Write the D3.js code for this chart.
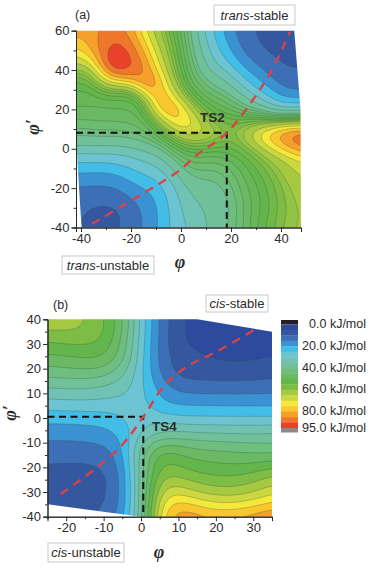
<!DOCTYPE html>
<html>
<head>
<meta charset="utf-8">
<script src="https://cdn.jsdelivr.net/npm/d3@7"></script>
<style>
  html, body { margin: 0; padding: 0; background: #fff; }
  svg { display: block; }
  text { font-family: "Liberation Sans", Arial, sans-serif; fill: #2b2b2b; }
  .tick text { font-size: 13px; fill: #2b2b2b; }
  .domain, .tick line { stroke: #2b2b2b; stroke-width: 1; }
</style>
</head>
<body>
<div id="chart"></div>
<script>
// Energy levels (kJ/mol) and the colour of the band that starts at each level
const levels = [0, 5, 10, 15, 20, 25, 30, 35, 40, 45, 50, 55, 60, 65, 70, 75, 80, 85, 90, 95];
const bandColors = ["#2e4a9c", "#34579f", "#3c6fb6", "#3b92d2", "#42bde8", "#6cc3d2", "#70c3b4",
    "#70c19a", "#6ebe80", "#69ba62", "#63b64c", "#7dbc45", "#a6c942", "#cdd73f", "#f4e93b",
    "#fbc72e", "#f69f2b", "#ef772b", "#e8432a", "#8a8a8a"];
const legendTicks = [0, 20, 40, 60, 80, 95];

// Panel (a) has extra contour lines in the green range
const levelsA = [0, 5, 10, 15, 20, 25, 30, 35, 40, 42.5, 45, 47.5, 50, 52.5, 55, 57.5, 60, 65, 70, 75, 80, 85, 90];
const levelsB = levels.slice(0, -1);

// Panel (a): energy, top row is phi' = 60, step 5 deg
const phiA = d3.range(-40, 51, 5);
const psiA = d3.range(60, -41, -5);
const energyA = [
    [82, 83, 87, 87, 83, 72, 62, 55, 47.5, 37.5, 28.5, 22, 16, 11.8, 9.7, 8, 7.5, 8, 8.5],
    [79, 83.5, 89, 90, 87, 76, 65, 57, 48.5, 38.5, 30, 23.5, 17.8, 12.5, 10, 8.7, 8, 8, 8.5],
    [73.5, 81.5, 91, 94, 89, 81, 68, 58.5, 49.5, 40, 31.5, 25.5, 20, 14, 11.5, 9.3, 8.5, 8.5, 8.7],
    [68, 74, 93, 97, 91, 85, 72, 60, 50.5, 41.5, 33.5, 28, 23, 16.5, 13.8, 11, 9.5, 9, 9.2],
    [58, 63, 90, 94, 90, 87, 77, 62, 52, 43, 36, 32, 28, 21, 16.5, 13.5, 10.5, 10, 10],
    [53, 54, 72, 79, 82, 87, 85, 65, 54, 45.5, 40, 36.5, 33, 26, 21, 16.5, 12.5, 12, 11.5],
    [49.8, 50, 57, 55, 53.5, 79, 85, 72, 57, 49, 44, 41, 38, 31, 25.8, 21, 15.5, 14, 14],
    [48.3, 48.3, 49.5, 49.3, 49.2, 51, 83, 80, 65, 53, 48.5, 45.5, 43, 37, 32.5, 27, 21, 20, 20],
    [47.3, 47, 46.7, 47.1, 47.4, 48, 75, 85, 78, 61, 52.5, 49.5, 47.5, 43, 40.5, 35, 30, 32, 32],
    [45.3, 45.7, 45.7, 46, 46.2, 47, 56, 75, 78, 71, 57.5, 54, 52.5, 52, 52, 50, 49, 50, 50],
    [42, 43, 43, 43, 43.5, 45, 50, 60, 72, 71, 66, 59, 56.5, 60, 67, 74, 80, 84, 84],
    [39.5, 39.5, 39.5, 39.5, 40, 42, 44, 52, 60, 63, 63, 57, 55, 60, 70, 78, 84, 90, 92],
    [33, 33, 33, 33, 34, 36, 38, 43, 50, 52.5, 51, 51, 51.5, 54.5, 59, 68, 75, 82, 86],
    [26.8, 27, 27, 27.5, 29, 31, 33, 37, 44, 47.5, 46, 46, 48, 51, 54.5, 59.5, 64, 69, 72],
    [21.8, 21.8, 21.5, 23, 25, 27, 28.5, 33, 39.5, 43.5, 42.5, 43, 45, 49, 52, 56, 61, 65.5, 68],
    [17.7, 17.5, 17, 18.5, 21, 24, 25, 29.5, 35.5, 40.5, 40, 40.5, 43, 47.5, 50.5, 54, 58.5, 63, 65.5],
    [14.2, 14, 14, 15, 17.5, 20, 22, 27, 32.5, 37.5, 38, 39, 41.5, 46.5, 49.5, 52.5, 57, 61, 64],
    [12.5, 12, 11.5, 12.5, 14.8, 17, 20, 25.8, 31, 35.5, 36.5, 38, 40.5, 45.5, 49, 52, 56.5, 60, 62.5],
    [11.5, 10.2, 9.5, 10.5, 13.2, 15.5, 19, 25.3, 30, 34, 35.5, 37, 40, 45, 49, 52, 56, 59.5, 61.5],
    [10.5, 7, 5.5, 9, 12.7, 15, 18.7, 25, 29, 33, 35, 37, 40.5, 45, 49.5, 52.5, 56.5, 59.5, 61],
    [11, 8.5, 8, 10, 12.7, 15, 19, 25, 28.5, 32, 35, 37.5, 41, 45, 50, 53, 57.5, 60, 61.5]
];
const outlineA = [[-42, 60], [45.3, 60], [46.8, 36], [47.8, 20], [48, -40], [-39.8, -40], [-41.5, -5], [-42, 10]];
const pathA = [[-35.7, -38.2], [-15, -22.6], [-0.4, -10.8], [6.3, -3.2], [18.3, 8.1], [29.6, 26.4], [36.3, 40], [43.6, 59.4]];
const guideA = [[-42, 8.1], [18.3, 8.1], [18.3, -40]];

// Panel (b): top row is phi' = 40, step 5 deg
const phiB = d3.range(-25, 36, 5);
const psiB = d3.range(40, -41, -5);
const energyB = [
    [64, 62.5, 60.5, 56, 47, 28, 13, 5.5, 3.5, 2.8, 2.5, 2, 2],
    [59.5, 60.5, 60, 56.5, 47, 27.5, 13, 5.5, 3, 2.5, 2.3, 2, 2],
    [54, 55, 55.5, 54.5, 44.5, 27, 12.5, 5.5, 3.5, 3, 3, 3, 3.5],
    [49, 50, 51, 51, 44, 26.5, 12.5, 7.5, 5.8, 4.7, 4, 4.2, 5],
    [44, 44.8, 45.5, 45.8, 37.7, 27, 12.5, 7.8, 6.5, 6, 5.8, 6.3, 7],
    [38, 38.5, 39, 37, 34.5, 26.5, 16, 10.3, 10, 10, 9.8, 10, 10.5],
    [32.4, 33, 33, 32, 31, 27, 19, 15, 14.8, 14.7, 14.5, 14.7, 15],
    [27, 27.2, 27.5, 27.5, 27, 27.5, 21, 20, 20, 19.8, 19.7, 19.7, 19.5],
    [21.5, 21.7, 22, 22.3, 24.5, 30, 27.5, 25.7, 25.5, 25.5, 25.5, 25.5, 25.5],
    [18, 18, 18.3, 19, 21.5, 29, 33.5, 34.5, 33.5, 33.5, 33, 33, 33.5],
    [14.3, 14.3, 14.5, 15.5, 18.5, 35, 44, 43, 41.5, 41, 40.5, 40, 40],
    [11.2, 11, 11.2, 12, 16.5, 39, 55, 51, 48, 47.5, 46.5, 46, 45.5],
    [9.5, 9.2, 9.2, 9.5, 14.5, 38, 58, 55.5, 52.5, 51.5, 51, 52, 55],
    [8.7, 8.5, 8.5, 8, 14, 37, 63, 61.5, 58, 56.5, 56.5, 58.5, 62.5],
    [8.5, 8.5, 8.7, 8, 14, 36, 68, 69, 64.5, 62, 62, 64, 69],
    [8.7, 9, 9.3, 8.5, 15, 35, 72, 79, 74, 71, 71, 73, 77],
    [9, 9.5, 10, 10, 17, 35, 75, 85, 83, 80, 81, 83, 86]
];
const outlineB = [[-25, 40], [15, 40], [35, 35], [35, -40], [0, -40], [-25, -35]];
const pathB = [[-21.5, -30.8], [-10.9, -19], [-4.7, -10.3], [0.6, 0.5], [6, 12.7], [12.2, 20.8], [20.2, 26.9], [30.6, 36]];
const guideB = [[-25, 0.5], [0.6, 0.5], [0.6, -40]];

const width = 392, height = 568;
const svg = d3.select("#chart").append("svg")
    .attr("width", width)
    .attr("height", height);

const color = d3.scaleThreshold().domain(levels.slice(1)).range(bandColors);

// Colour of a band, the half steps of panel (a) fall between two legend colours
function bandColor(v) {
    const base = Math.floor(v / 5) * 5;
    return d3.interpolateRgb(color(base), color(base + 5))((v - base) / 5);
}

// One contour panel: filled bands, contour lines, axes, dashed paths
function drawPanel(p) {
    var x = d3.scaleLinear().domain(p.xDomain).range(p.xRange),
        y = d3.scaleLinear().domain(p.yDomain).range(p.yRange);

    // Refine the read grid only for drawing, so the lines don't show its 5 deg cells.
    // Edges repeat for two cells, rings then close outside the clip.
    const pad = 2, k = 4, nx = p.phi.length, ny = p.psi.length;
    const w = (nx + 2 * pad - 1) * k + 1, h = (ny + 2 * pad - 1) * k + 1;
    const at = (r, c) => p.energy[Math.min(ny - 1, Math.max(0, r - pad))][Math.min(nx - 1, Math.max(0, c - pad))];
    const values = new Float64Array(w * h);
    for (let j = 0; j < h; j++) {
        for (let i = 0; i < w; i++) {
            const r = Math.floor(j / k), c = Math.floor(i / k), fy = j / k - r, fx = i / k - c;
            values[j * w + i] = d3.interpolate(
                d3.interpolate(at(r, c), at(r, c + 1))(fx),
                d3.interpolate(at(r + 1, c), at(r + 1, c + 1))(fx))(fy);
        }
    }
    d3.blur2({ data: values, width: w, height: h }, p.blur);

    const step = p.phi[1] - p.phi[0];
    const toX = c => x(p.phi[0] + ((c - 0.5) / k - pad) * step);
    const toY = c => y(p.psi[0] - ((c - 0.5) / k - pad) * step);
    const geo = d3.geoPath(d3.geoTransform({
        point: function (a, b) { this.stream.point(toX(a), toY(b)); }
    }));

    const contours = d3.contours().size([w, h]).thresholds(p.levels)(Array.from(values));

    svg.append("clipPath").attr("id", "clip-" + p.name)
        .append("path")
        .attr("d", d3.line().x(d => x(d[0])).y(d => y(d[1]))(p.outline) + "Z");

    const map = svg.append("g").attr("clip-path", "url(#clip-" + p.name + ")")
        .append("g").style("filter", "blur(0.35px)");

    map.selectAll("path")
        .data(contours.filter(d => d.coordinates.length))
        .join("path")
        .attr("d", geo)
        .attr("fill", d => bandColor(d.value))
        .attr("stroke", "#2f4a3a")
        .attr("stroke-opacity", 0.5)
        .attr("stroke-width", 0.55);

    // Axes, major ticks labelled and minor ticks between them
    const xAt = p.yRange[0], yAt = p.xRange[0];
    svg.append("g").attr("transform", `translate(0,${xAt})`)
        .call(d3.axisBottom(x).tickValues(p.xMinor).tickSize(2.5).tickFormat(""));
    svg.append("g").attr("transform", `translate(${yAt},0)`)
        .call(d3.axisLeft(y).tickValues(p.yMinor).tickSize(2.5).tickFormat(""));
    svg.append("g").attr("transform", `translate(0,${xAt})`)
        .call(d3.axisBottom(x).tickValues(p.xTicks).tickSize(4.5).tickPadding(2).tickFormat(d3.format("d")));
    svg.append("g").attr("transform", `translate(${yAt},0)`)
        .call(d3.axisLeft(y).tickValues(p.yTicks).tickSize(4.5).tickPadding(2).tickFormat(d3.format("d")));
    svg.selectAll(".domain").attr("stroke-width", 1.2);
    svg.selectAll(".tick text").text(function () { return this.textContent.replace("\u2212", "-"); });

    // Dashed paths
    const line = d3.line().x(d => x(d[0])).y(d => y(d[1]));
    svg.append("path")
        .attr("d", line(p.guide))
        .attr("fill", "none")
        .attr("stroke", "#111")
        .attr("stroke-width", 2)
        .attr("stroke-dasharray", "7,4.5");
    svg.append("path")
        .attr("d", line.curve(d3.curveCatmullRom)(p.path))
        .attr("fill", "none")
        .attr("stroke", "#d8424a")
        .attr("stroke-width", 2.4)
        .attr("stroke-dasharray", "9,6.5");

    // Text
    svg.append("text").attr("x", p.tag[0]).attr("y", p.tag[1])
        .attr("font-size", "12.5px").text(p.tagText);
    svg.append("text").attr("x", p.ts[0]).attr("y", p.ts[1])
        .attr("font-size", "13.5px").attr("font-weight", "bold").text(p.tsText);
    svg.append("text").attr("x", p.xTitle[0]).attr("y", p.xTitle[1])
        .attr("text-anchor", "middle")
        .style("font-family", "'Liberation Serif', serif")
        .attr("font-size", "18px").attr("font-weight", "bold").attr("font-style", "italic")
        .text("\u03c6");
    svg.append("text")
        .attr("transform", `translate(${p.yTitle[0]},${p.yTitle[1]}) rotate(-90)`)
        .attr("text-anchor", "middle")
        .style("font-family", "'Liberation Serif', serif")
        .attr("font-size", "18px").attr("font-weight", "bold").attr("font-style", "italic")
        .text("\u03c6\u2032");

    p.boxes.forEach(function (b) {
        svg.append("rect")
            .attr("x", b.x).attr("y", b.y).attr("width", b.w).attr("height", b.h)
            .attr("fill", "#fff").attr("stroke", "#c9c9c9");
        const t = svg.append("text")
            .attr("x", b.x + b.w / 2).attr("y", b.y + b.h / 2 + 4.5)
            .attr("text-anchor", "middle")
            .attr("font-size", "13px");
        t.append("tspan").attr("font-style", "italic").text(b.italic);
        t.append("tspan").text(b.rest);
    });
}

drawPanel({
    name: "a", phi: phiA, psi: psiA, energy: energyA, levels: levelsA, outline: outlineA, path: pathA, guide: guideA,
    blur: 2,
    xDomain: [-42, 48], xRange: [76, 301], yDomain: [-40, 60], yRange: [227.5, 30.7],
    xTicks: [-40, -20, 0, 20, 40], xMinor: [-30, -10, 10, 30],
    yTicks: [-40, -20, 0, 20, 40, 60], yMinor: [-30, -10, 10, 30, 50],
    tag: [75, 19], tagText: "(a)", ts: [200, 122], tsText: "TS2",
    xTitle: [180, 268], yTitle: [39, 127],
    boxes: [
        { x: 214, y: 5, w: 81, h: 20, italic: "trans", rest: "-stable" },
        { x: 62, y: 256, w: 92, h: 18, italic: "trans", rest: "-unstable" }
    ]
});

drawPanel({
    name: "b", phi: phiB, psi: psiB, energy: energyB, levels: levelsB, outline: outlineB, path: pathB, guide: guideB,
    blur: 1.5,
    xDomain: [-25, 35], xRange: [47.5, 272], yDomain: [-40, 40], yRange: [516.7, 319.3],
    xTicks: [-20, -10, 0, 10, 20, 30], xMinor: [-25, -15, -5, 5, 15, 25, 35],
    yTicks: [-40, -30, -20, -10, 0, 10, 20, 30, 40], yMinor: [-35, -25, -15, -5, 5, 15, 25, 35],
    tag: [53, 309], tagText: "(b)", ts: [152, 431], tsText: "TS4",
    xTitle: [159, 558], yTitle: [16, 413],
    boxes: [
        { x: 206, y: 295, w: 62, h: 17, italic: "cis", rest: "-stable" },
        { x: 48, y: 543, w: 76, h: 19, italic: "cis", rest: "-unstable" }
    ]
});

// Legend
const legendY = d3.scaleLinear().domain([0, 95]).range([324.5, 428]);
const legend = svg.append("g");
legend.append("rect")
    .attr("x", 281).attr("y", 320).attr("width", 17).attr("height", legendY(0) - 320)
    .attr("fill", "#231f20");
legend.selectAll(".band")
    .data(levels)
    .join("rect")
    .attr("class", "band")
    .attr("x", 281)
    .attr("y", d => legendY(d))
    .attr("width", 17)
    .attr("height", d => d === 95 ? 4.5 : legendY(d + 5) - legendY(d) + 0.3)
    .attr("fill", d => color(d));
legend.selectAll(".label")
    .data(legendTicks)
    .join("text")
    .attr("class", "label")
    .attr("x", 366)
    .attr("y", d => legendY(d) + 3.5)
    .attr("text-anchor", "end")
    .attr("font-size", "12.5px")
    .text(d => d3.format(".1f")(d) + " kJ/mol");
</script>
</body>
</html>
